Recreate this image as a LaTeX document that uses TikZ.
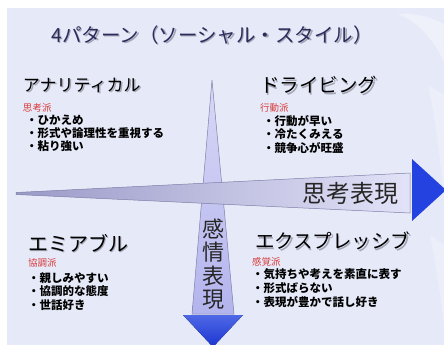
\documentclass[tikz,border=0pt]{standalone}
\usepackage{fontspec}
\newfontfamily\jp{Noto Sans CJK JP}
\definecolor{bg}{HTML}{E6EAF8}
\definecolor{titlec}{HTML}{2C2C5C}
\definecolor{redc}{HTML}{D83A3A}
\definecolor{headblue}{HTML}{2342E0}
\definecolor{headblueb}{HTML}{1A36D0}
\definecolor{shaftedge}{HTML}{7E7EA8}
\definecolor{htl}{HTML}{9A9AC8}
\definecolor{htm}{HTML}{A8A8F0}
\definecolor{htr}{HTML}{E2E2F8}
\definecolor{vtt}{HTML}{D8D8F6}
\definecolor{vtb}{HTML}{B4B4EE}
\definecolor{shadowc}{HTML}{A4A4B4}
\tikzset{
  txt/.style={inner sep=0pt, outer sep=0pt, font=\jp},
  heading/.style={txt, anchor=west, text=black},
  headshadow/.style={txt, anchor=west, text=shadowc},
  school/.style={txt, anchor=west, text=redc, font=\jp\fontsize{9.5}{10}\selectfont},
  bullet/.style={txt, anchor=west, text=black, font=\jp\bfseries\fontsize{11.5}{12}\selectfont},
  axischar/.style={txt, text=black!85, font=\jp\fontsize{22}{22}\selectfont},
  headfill/.style={top color=headblue!80!white, bottom color=headblueb},
}
\begin{document}
\begin{tikzpicture}[x=1pt,y=-1pt]
\useasboundingbox (0,0) rectangle (444,345);
\fill[white] (0,0) rectangle (444,345);
\fill[bg] (7,8) rectangle (444,345);
% faint white brush strokes at the right edge
\fill[white, opacity=0.35] (398,14) .. controls (418,22) and (434,40) .. (444,62) -- (444,24) .. controls (430,17) and (412,12) .. (398,14) -- cycle;
\fill[white, opacity=0.25] (428,85) .. controls (436,120) and (440,160) .. (444,195) -- (444,95) -- cycle;
\fill[white, opacity=0.25] (430,235) .. controls (437,270) and (441,300) .. (444,325) -- (444,245) -- cycle;

% title
\node[txt, text=shadowc, font=\jp\fontsize{19.5}{20}\selectfont] (titleS) at (213.5,36.5) {4パターン（ソーシャル・スタイル）};
\node[txt, text=titlec, font=\jp\fontsize{19.5}{20}\selectfont] (title) at (212,35) {4パターン（ソーシャル・スタイル）};

% vertical axis arrow
\path[draw=shaftedge, line width=0.5pt, top color=vtt, bottom color=vtb] (212,80) -- (234,314) -- (192,314) -- cycle;
\fill[headfill] (183,315) -- (243,315) -- (213,347) -- cycle;

% horizontal axis arrow
\path[draw=shaftedge, line width=0.5pt, left color=htl, middle color=htm, right color=htr] (16,192.5) -- (410,173) -- (410,213) -- (16,194.5) -- cycle;
\fill[headblue] (412,159) -- (412,221) -- (446,190) -- cycle;

\node[txt, text=black!85, font=\jp\fontsize{24}{24}\selectfont] (think) at (350,193) {思考表現};
\node[axischar] (v1) at (213,229) {感};
\node[axischar] (v2) at (213,252.5) {情};
\node[axischar] (v3) at (213,276) {表};
\node[axischar] (v4) at (213,299.5) {現};

% top left
\node[headshadow, font=\jp\fontsize{17}{18}\selectfont] (q1s) at (24.5,86.5) {アナリティカル};
\node[heading, font=\jp\fontsize{17}{18}\selectfont] (q1) at (23,85) {アナリティカル};
\node[school] (q1r) at (23,108) {思考派};
\node[bullet] (q1a) at (26,120) {・ひかえめ};
\node[bullet] (q1b) at (26,133) {・形式や論理性を重視する};
\node[bullet] (q1c) at (26,146) {・粘り強い};

% top right
\node[headshadow, font=\jp\fontsize{19.5}{20}\selectfont] (q2s) at (261.5,86.5) {ドライビング};
\node[heading, font=\jp\fontsize{19.5}{20}\selectfont] (q2) at (260,85) {ドライビング};
\node[school] (q2r) at (260,108) {行動派};
\node[bullet] (q2a) at (263,121) {・行動が早い};
\node[bullet] (q2b) at (263,134.5) {・冷たくみえる};
\node[bullet] (q2c) at (263,148) {・競争心が旺盛};

% bottom left
\node[headshadow, font=\jp\fontsize{20}{20}\selectfont] (q3s) at (29.5,244.5) {エミアブル};
\node[heading, font=\jp\fontsize{20}{20}\selectfont] (q3) at (28,243) {エミアブル};
\node[school] (q3r) at (28,263) {協調派};
\node[bullet] (q3a) at (28,278) {・親しみやすい};
\node[bullet] (q3b) at (28,291.5) {・協調的な態度};
\node[bullet] (q3c) at (28,305) {・世話好き};

% bottom right
\node[headshadow, font=\jp\fontsize{19.5}{20}\selectfont] (q4s) at (256.5,242.5) {エクスプレッシブ};
\node[heading, font=\jp\fontsize{19.5}{20}\selectfont] (q4) at (255,241) {エクスプレッシブ};
\node[school] (q4r) at (252,262) {感覚派};
\node[bullet] (q4a) at (252,274) {・気持ちや考えを素直に表す};
\node[bullet] (q4b) at (252,288) {・形式ばらない};
\node[bullet] (q4c) at (252,302) {・表現が豊かで話し好き};
\end{tikzpicture}
\end{document}
